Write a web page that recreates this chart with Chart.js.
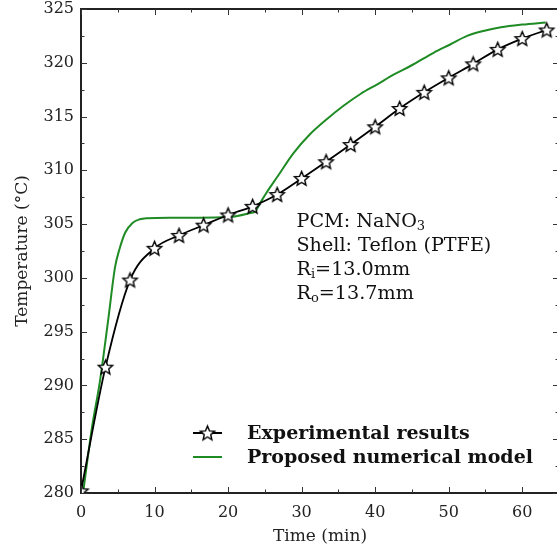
<!DOCTYPE html>
<html><head><meta charset="utf-8">
<script src="https://cdn.jsdelivr.net/npm/chart.js@4.4.1/dist/chart.umd.min.js"></script>
<style>
html,body{margin:0;padding:0;overflow:hidden;background:#fff;width:557px;height:554px}
#wrap{width:562px;height:554px;position:relative}
</style></head>
<body><div id="wrap"><canvas id="c" width="562" height="554"></canvas></div>
<script>
// ---- data ----
const expTime = [0, 3.33, 6.67, 10, 13.33, 16.67, 20, 23.33, 26.67, 30, 33.33, 36.67, 40, 43.33, 46.67, 50, 53.33, 56.67, 60, 63.33];
const expTemp = [280.2, 291.7, 299.8, 302.75, 303.95, 304.9, 305.85, 306.65, 307.75, 309.25, 310.8, 312.4, 314.05, 315.75, 317.25, 318.6, 319.9, 321.25, 322.25, 323.05];
const modelTime = [0.3, 1.45, 2.6, 3.7, 4.63, 5.2, 6.0, 7.0, 8.0, 9.0, 12, 16, 20, 22.8, 23.7, 24.4, 25.2, 26.7, 28.9, 31.2, 33.5, 35.7, 38.0, 40.3, 42.5, 44.8, 48.0, 50.2, 52.5, 55.0, 57.1, 60.0, 63.2];
const modelTemp = [280.1, 285.9, 290.5, 296.1, 301.0, 302.6, 304.2, 305.1, 305.45, 305.55, 305.6, 305.6, 305.65, 306.0, 306.2, 307.0, 307.9, 309.4, 311.6, 313.4, 314.8, 316.0, 317.1, 318.0, 318.9, 319.7, 320.95, 321.7, 322.5, 323.0, 323.3, 323.55, 323.75];
const xTicks = [0, 10, 20, 30, 40, 50, 60];
const yTicks = [280, 285, 290, 295, 300, 305, 310, 315, 320, 325];
const seriesNames = ['Experimental results', 'Proposed numerical model'];
const annotationLines = [['PCM: NaNO', '3', ''], ['Shell: Teflon (PTFE)', '', ''], ['R', 'i', '=13.0mm'], ['R', 'o', '=13.7mm']];
const xTitle = 'Time (min)';
const yTitle = 'Temperature (\u00B0C)';

const SERIF = '"DejaVu Serif", serif';
const GREEN = '#1f8b24';

function makeStar(r) {
  const s = Math.ceil(r * 2 + 4);
  const c = document.createElement('canvas');
  c.width = c.height = s;
  const g = c.getContext('2d');
  g.beginPath();
  for (let i = 0; i < 10; i++) {
    const rad = i % 2 ? r * 0.45 : r;
    const a = -Math.PI / 2 + i * Math.PI / 5;
    g.lineTo(s / 2 + rad * Math.cos(a), s / 2 + rad * Math.sin(a) + 0.6);
  }
  g.closePath();
  g.fillStyle = '#fff'; g.fill();
  g.lineWidth = 1.4; g.strokeStyle = '#000'; g.lineJoin = 'miter'; g.stroke();
  return c;
}
const starImg = makeStar(7.5);

function fitSize(ctx, text, weight, target) {
  ctx.font = weight + ' 100px ' + SERIF;
  return 100 * target / ctx.measureText(text).width;
}

const framePlugin = {
  id: 'frame',
  afterDatasetsDraw(chart) {
    const {ctx, chartArea: a, scales: {x, y}} = chart;
    ctx.save();
    ctx.strokeStyle = '#222';
    ctx.lineWidth = 2;
    ctx.beginPath();
    ctx.moveTo(a.left, a.top); ctx.lineTo(a.right, a.top); ctx.lineTo(a.right, a.bottom);
    ctx.stroke();
    ctx.lineWidth = 1;
    ctx.strokeStyle = '#333';
    ctx.beginPath();
    for (let v = 0; v <= 65; v += 5) {
      const px = Math.round(x.getPixelForValue(v)) + 0.5;
      const len = v % 10 === 0 ? 6 : 3.5;
      ctx.moveTo(px, a.bottom); ctx.lineTo(px, a.bottom - len);
      ctx.moveTo(px, a.top); ctx.lineTo(px, a.top + len);
    }
    for (let v = 280; v <= 325; v += 2.5) {
      const py = Math.round(y.getPixelForValue(v)) + 0.5;
      const len = v % 5 === 0 ? 6 : 3.5;
      ctx.moveTo(a.left, py); ctx.lineTo(a.left + len, py);
      ctx.moveTo(a.right, py); ctx.lineTo(a.right - len, py);
    }
    ctx.stroke();
    ctx.restore();
  },
  afterDraw(chart) {
    const {ctx, chartArea: a} = chart;
    ctx.save();
    // legend
    const lx = a.left + 112, ly1 = a.top + 424, ly2 = a.top + 448;
    ctx.lineWidth = 2;
    ctx.strokeStyle = '#000';
    ctx.beginPath(); ctx.moveTo(lx, ly1); ctx.lineTo(lx + 29, ly1); ctx.stroke();
    ctx.drawImage(starImg, lx + 14.5 - starImg.width / 2, ly1 - starImg.height / 2);
    ctx.strokeStyle = GREEN;
    ctx.beginPath(); ctx.moveTo(lx, ly2); ctx.lineTo(lx + 29, ly2); ctx.stroke();
    const bs = fitSize(ctx, seriesNames[0], 'bold', 223);
    ctx.font = 'bold ' + bs.toFixed(2) + 'px ' + SERIF;
    ctx.fillStyle = '#111';
    ctx.textBaseline = 'middle';
    ctx.textAlign = 'left';
    ctx.fillText(seriesNames[0], lx + 54, ly1 + 1);
    ctx.fillText(seriesNames[1], lx + 54, ly2 + 1);
    // annotation
    const as = fitSize(ctx, annotationLines[1][0], 'normal', 195);
    ctx.textBaseline = 'alphabetic';
    const ax = a.left + 215.5;
    const base = [a.top + 217.5, a.top + 241.5, a.top + 266, a.top + 290.3];
    annotationLines.forEach((ln, i) => {
      let cx = ax;
      ctx.font = as.toFixed(2) + 'px ' + SERIF;
      ctx.fillText(ln[0], cx, base[i]);
      cx += ctx.measureText(ln[0]).width;
      if (ln[1]) {
        ctx.font = (as * 0.68).toFixed(2) + 'px ' + SERIF;
        ctx.fillText(ln[1], cx, base[i] + 3);
        cx += ctx.measureText(ln[1]).width;
      }
      if (ln[2]) {
        ctx.font = as.toFixed(2) + 'px ' + SERIF;
        ctx.fillText(ln[2], cx, base[i]);
      }
    });
    ctx.restore();
  }
};

new Chart(document.getElementById('c'), {
  type: 'line',
  data: {
    datasets: [
      {
        label: seriesNames[0],
        data: expTime.map((t, i) => ({x: t, y: expTemp[i]})),
        borderColor: '#000',
        borderWidth: 1.8,
        pointStyle: starImg,
        pointRadius: 7,
        cubicInterpolationMode: 'monotone',
        fill: false
      },
      {
        label: seriesNames[1],
        data: modelTime.map((t, i) => ({x: t, y: modelTemp[i]})),
        borderColor: GREEN,
        borderWidth: 2,
        pointRadius: 0,
        cubicInterpolationMode: 'monotone',
        fill: false
      }
    ]
  },
  options: {
    responsive: false,
    animation: false,
    devicePixelRatio: 1,
    layout: {autoPadding: false, padding: {top: 9, right: 3, left: 0, bottom: 0}},
    plugins: {legend: {display: false}, tooltip: {enabled: false}},
    scales: {
      x: {
        type: 'linear', min: 0, max: 65,
        afterBuildTicks: s => { s.ticks = xTicks.map(v => ({value: v})); },
        afterFit: s => { s.height = 61; s.paddingLeft = 0; s.paddingRight = 0; },
        grid: {display: false, drawTicks: false},
        border: {display: true, color: '#222', width: 2},
        ticks: {padding: 10, color: '#222', font: {family: SERIF, size: 16}, maxRotation: 0, autoSkip: false},
        title: {display: true, text: xTitle, color: '#222', font: {family: SERIF, size: 17}, padding: {top: 0, bottom: 7}}
      },
      y: {
        type: 'linear', min: 280, max: 325,
        afterBuildTicks: s => { s.ticks = yTicks.map(v => ({value: v})); },
        afterFit: s => { s.width = 81; s.paddingTop = 0; s.paddingBottom = 0; },
        grid: {display: false, drawTicks: false},
        border: {display: true, color: '#222', width: 2},
        ticks: {padding: 7, color: '#222', font: {family: SERIF, size: 16}, autoSkip: false},
        title: {display: true, text: yTitle, color: '#222', font: {family: SERIF, size: 17}, padding: {top: 12, bottom: 0}}
      }
    }
  },
  plugins: [framePlugin]
});
</script>
</body></html>
